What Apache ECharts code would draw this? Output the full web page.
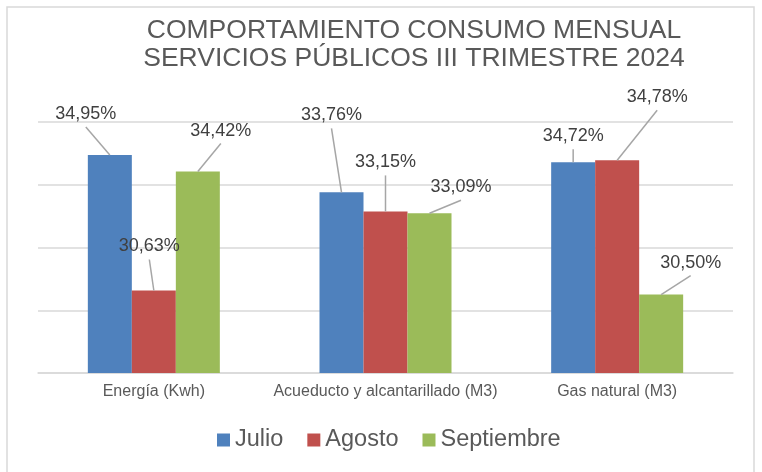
<!DOCTYPE html>
<html>
<head>
<meta charset="utf-8">
<style>
  html, body { margin: 0; padding: 0; background: #fff; }
  #chart { width: 762px; height: 472px; }
</style>
<script src="https://cdn.jsdelivr.net/npm/echarts@6/dist/echarts.min.js"></script>
</head>
<body>
<div id="chart"></div>
<script>
// datos
var categories = ["Energía (Kwh)", "Acueducto y alcantarillado (M3)", "Gas natural (M3)"];
var julio = [34.95, 33.76, 34.72];
var agosto = [30.63, 33.15, 34.78];
var septiembre = [34.42, 33.09, 30.50];
var seriesNames = ["Julio", "Agosto", "Septiembre"];
var yTicks = [28, 30, 32, 34, 36];

// desplazamiento de cada etiqueta respecto al centro superior de su barra [dx, dy]
var labelOffsets = [
  [[-24, -41], [-10, -77], [0, -26]],
  [[-4.5, -44], [0, -49], [40, -63]],
  [[23, -41], [31.5, -26], [29.5, -32]]
];

var FONT = "'Liberation Sans', Arial, sans-serif";
var colors = ["#4f81bd", "#c0504d", "#9bbb59"];
var BAR_W = 44;

(function () {
  var myChart = echarts.init(document.getElementById("chart"));

  function fmt(p) {
    return p.value.toFixed(2).replace(".", ",") + "%";
  }

  function makeSeries(name, values, idx) {
    return {
      name: name,
      type: "bar",
      data: values,
      barWidth: BAR_W,
      barGap: "0%",
      itemStyle: { color: colors[idx] },
      label: {
        show: true,
        position: "top",
        formatter: fmt,
        fontFamily: FONT,
        fontSize: 18,
        color: "#404040"
      },
      labelLayout: function (p) {
        var off = labelOffsets[p.seriesIndex][p.dataIndex];
        var cx = p.rect.x + p.rect.width / 2;
        return {
          x: cx + off[0],
          y: p.rect.y + off[1],
          align: "center",
          verticalAlign: "middle"
        };
      }
    };
  }

  // lineas guia de las etiquetas: [categoria, valor, serie]
  var guideData = [];
  [julio, agosto, septiembre].forEach(function (vals, s) {
    vals.forEach(function (v, i) {
      guideData.push([i, v, s]);
    });
  });

  var option = {
    animation: false,
    color: colors,
    graphic: [
      {
        type: "rect",
        shape: { x: 7, y: 7, width: 747, height: 480 },
        style: { fill: "none", stroke: "#d9d9d9", lineWidth: 1.5 },
        z: -1
      },
      {
        type: "text",
        x: 414,
        y: 16,
        style: {
          text: "COMPORTAMIENTO CONSUMO MENSUAL\nSERVICIOS PÚBLICOS III TRIMESTRE 2024",
          font: "26.5px " + FONT,
          fill: "#595959",
          textAlign: "center",
          verticalAlign: "top",
          lineHeight: 28.5
        }
      }
    ],
    legend: {
      data: seriesNames,
      left: 212,
      top: 423,
      icon: "rect",
      itemWidth: 13,
      itemHeight: 13,
      itemGap: 24,
      textStyle: {
        fontFamily: FONT,
        fontSize: 23.5,
        color: "#595959"
      }
    },
    grid: {
      left: 38,
      right: 29,
      top: 122,
      bottom: 99,
      containLabel: false
    },
    xAxis: {
      type: "category",
      data: categories,
      axisTick: { show: false },
      axisLine: { lineStyle: { color: "#d9d9d9", width: 1.5 } },
      axisLabel: {
        interval: 0,
        fontFamily: FONT,
        fontSize: 16,
        color: "#595959",
        margin: 11
      }
    },
    yAxis: {
      type: "value",
      min: yTicks[0],
      max: yTicks[yTicks.length - 1],
      interval: yTicks[1] - yTicks[0],
      axisLabel: { show: false },
      axisLine: { show: false },
      axisTick: { show: false },
      splitLine: { lineStyle: { color: "#d9d9d9", width: 1.5 } }
    },
    series: [
      makeSeries(seriesNames[0], julio, 0),
      makeSeries(seriesNames[1], agosto, 1),
      makeSeries(seriesNames[2], septiembre, 2),
      {
        type: "custom",
        name: "guias",
        silent: true,
        data: guideData,
        z: 3,
        renderItem: function (params, api) {
          var s = api.value(2);
          var i = api.value(0);
          var pt = api.coord([i, api.value(1)]);
          var cx = pt[0] + (s - 1) * BAR_W;
          var off = labelOffsets[s][i];
          return {
            type: "line",
            shape: { x1: cx + off[0], y1: pt[1] + off[1] + 13, x2: cx, y2: pt[1] },
            style: { stroke: "#a6a6a6", lineWidth: 1.5 }
          };
        }
      }
    ]
  };

  myChart.setOption(option);
  window.addEventListener("resize", function () {
    myChart.resize();
  });
})();
</script>
</body>
</html>
